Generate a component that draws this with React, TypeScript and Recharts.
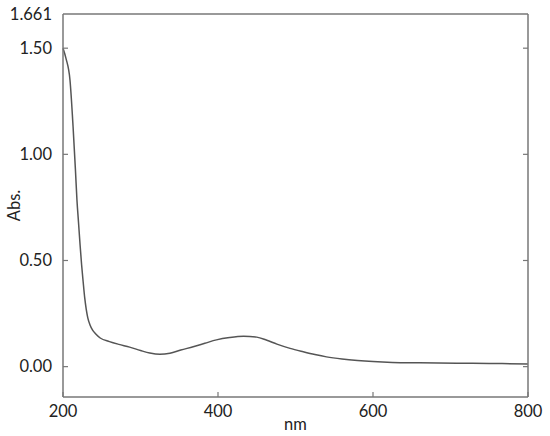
import { LineChart, Line, XAxis, YAxis } from 'recharts'

const wavelengths = [
  200, 204, 209, 213, 216, 218, 220, 222, 224, 226, 228, 230, 232, 235, 238, 242, 248, 260, 272, 286,
  300, 312, 325, 338, 352, 368, 383, 398, 415, 433, 450, 463, 476, 493, 510, 525, 540, 560, 580, 600,
  625, 660, 708, 750, 800,
]
const absorbance = [
  1.5, 1.45, 1.35, 1.13, 0.93, 0.785, 0.68, 0.575, 0.48, 0.4, 0.325, 0.27, 0.23, 0.195, 0.173, 0.155,
  0.135, 0.118, 0.105, 0.092, 0.076, 0.064, 0.058, 0.063, 0.078, 0.094, 0.11, 0.126, 0.137, 0.143, 0.139,
  0.124, 0.106, 0.086, 0.07, 0.057, 0.046, 0.036, 0.029, 0.024, 0.02, 0.018, 0.016, 0.015, 0.013,
]
const xTicks = [200, 400, 600, 800]
const yTicks = [0, 0.5, 1, 1.5, 1.661]
const yMarks = [0, 0.5, 1, 1.5]

const data = wavelengths.map((nm, i) => ({ nm, abs: absorbance[i] }))

const FONT = 'Lato, "Open Sans", sans-serif'
const FS = 16.5
const AXIS = '#777'
const TEXT = '#222'

function BottomTick({ x, y, payload }: any) {
  return (
    <g>
      <line x1={x} y1={y} x2={x} y2={y - 5} stroke={AXIS} strokeWidth={1.2} />
      <text x={x} y={y + 20} textAnchor="middle" fill={TEXT} fontSize={FS} fontFamily={FONT}>
        {payload.value}
      </text>
    </g>
  )
}

function LeftTick({ x, y, payload }: any) {
  const v = payload.value
  const label = v === 1.661 ? '1.661' : v.toFixed(2)
  return (
    <g>
      {v !== 1.661 && <line x1={x} y1={y} x2={x + 5} y2={y} stroke={AXIS} strokeWidth={1.2} />}
      <text x={x - 11} y={y} dy="0.35em" textAnchor="end" fill={TEXT} fontSize={FS} fontFamily={FONT}>
        {label}
      </text>
    </g>
  )
}

function RightTick({ x, y }: any) {
  return <line x1={x} y1={y} x2={x - 5} y2={y} stroke={AXIS} strokeWidth={1.2} />
}

export default function App() {
  return (
    <div style={{ position: 'absolute', left: 0, top: 0, background: '#fff' }}>
      <LineChart width={550} height={436} data={data} margin={{ top: 13, right: 0, bottom: 0, left: 0 }}>
        <XAxis
          dataKey="nm"
          type="number"
          domain={[200, 800]}
          ticks={xTicks}
          xAxisId="b"
          height={39}
          tickSize={0}
          tickMargin={0}
          tick={<BottomTick />}
          tickLine={false}
          axisLine={{ stroke: AXIS, strokeWidth: 1.5 }}
          label={({ viewBox }: any) => (
            <text x={viewBox.x + viewBox.width / 2} y={viewBox.y + 33} textAnchor="middle" fill={TEXT} fontSize={FS} fontFamily={FONT}>
              nm
            </text>
          )}
        />
        <XAxis
          dataKey="nm"
          type="number"
          domain={[200, 800]}
          xAxisId="t"
          orientation="top"
          height={1}
          tick={false}
          tickLine={false}
          axisLine={{ stroke: AXIS, strokeWidth: 1.5 }}
        />
        <YAxis
          yAxisId="l"
          type="number"
          domain={[-0.143, 1.661]}
          allowDataOverflow
          ticks={yTicks}
          width={63}
          tickSize={0}
          tickMargin={0}
          tick={<LeftTick />}
          tickLine={false}
          axisLine={{ stroke: AXIS, strokeWidth: 1.5 }}
          label={({ viewBox }: any) => (
            <text
              x={14}
              y={viewBox.y + viewBox.height / 2}
              transform={`rotate(-90, 14, ${viewBox.y + viewBox.height / 2})`}
              textAnchor="middle"
              dy="0.35em"
              fill={TEXT}
              fontSize={FS}
              fontFamily={FONT}
            >
              Abs.
            </text>
          )}
        />
        <YAxis
          yAxisId="r"
          orientation="right"
          type="number"
          domain={[-0.143, 1.661]}
          allowDataOverflow
          ticks={yMarks}
          width={22}
          tickSize={0}
          tickMargin={0}
          tick={<RightTick />}
          tickLine={false}
          axisLine={{ stroke: AXIS, strokeWidth: 1.5 }}
        />
        <Line
          xAxisId="b"
          yAxisId="l"
          dataKey="abs"
          type="monotone"
          stroke="#555"
          strokeWidth={1.5}
          dot={false}
          isAnimationActive={false}
        />
      </LineChart>
    </div>
  )
}
